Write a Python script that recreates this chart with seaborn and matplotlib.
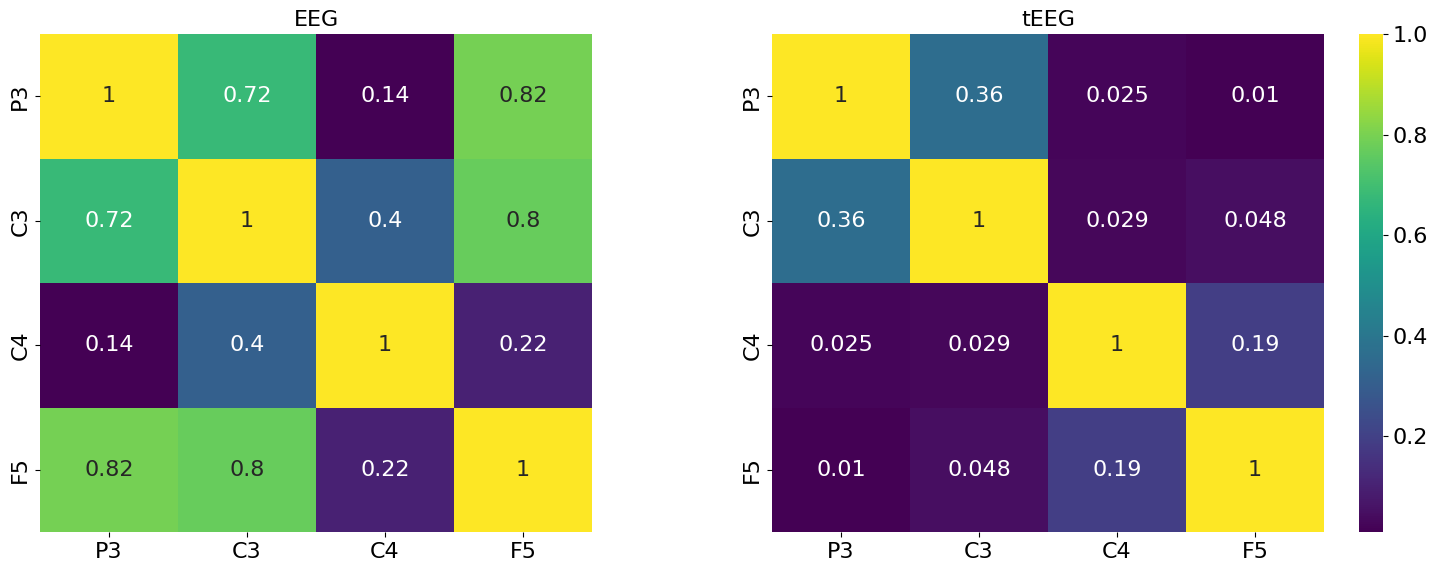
import numpy as np
import pandas as pd
import matplotlib
matplotlib.use("Agg")
import matplotlib.pyplot as plt
import seaborn as sns

channels = ["P3", "C3", "C4", "F5"]
eeg_corr = [
    [1.0, 0.72, 0.14, 0.82],
    [0.72, 1.0, 0.40, 0.80],
    [0.14, 0.40, 1.0, 0.22],
    [0.82, 0.80, 0.22, 1.0],
]
teeg_corr = [
    [1.0, 0.36, 0.025, 0.01],
    [0.36, 1.0, 0.029, 0.048],
    [0.025, 0.029, 1.0, 0.19],
    [0.01, 0.048, 0.19, 1.0],
]

FS = 16
plt.rcParams.update({"font.size": FS})
W, H = 1438, 572
fig = plt.figure(figsize=(W / 100, H / 100), dpi=100)
ax1 = fig.add_axes([40 / W, (H - 532) / H, 552 / W, 498 / H])
ax2 = fig.add_axes([772 / W, (H - 532) / H, 552 / W, 498 / H])
cax = fig.add_axes([1359 / W, (H - 532) / H, 24 / W, 498 / H])

df1 = pd.DataFrame(eeg_corr, index=channels, columns=channels)
df2 = pd.DataFrame(teeg_corr, index=channels, columns=channels)

sns.heatmap(df1, ax=ax1, cmap="viridis", annot=True, cbar=False,
            annot_kws={"size": FS})
sns.heatmap(df2, ax=ax2, cmap="viridis", annot=True, cbar_ax=cax,
            annot_kws={"size": FS})
ax1.set_title("EEG", fontsize=FS)
ax2.set_title("tEEG", fontsize=FS)
for ax in (ax1, ax2):
    ax.tick_params(labelsize=FS)
cax.tick_params(labelsize=FS)

fig.savefig("out.png", dpi=100)
